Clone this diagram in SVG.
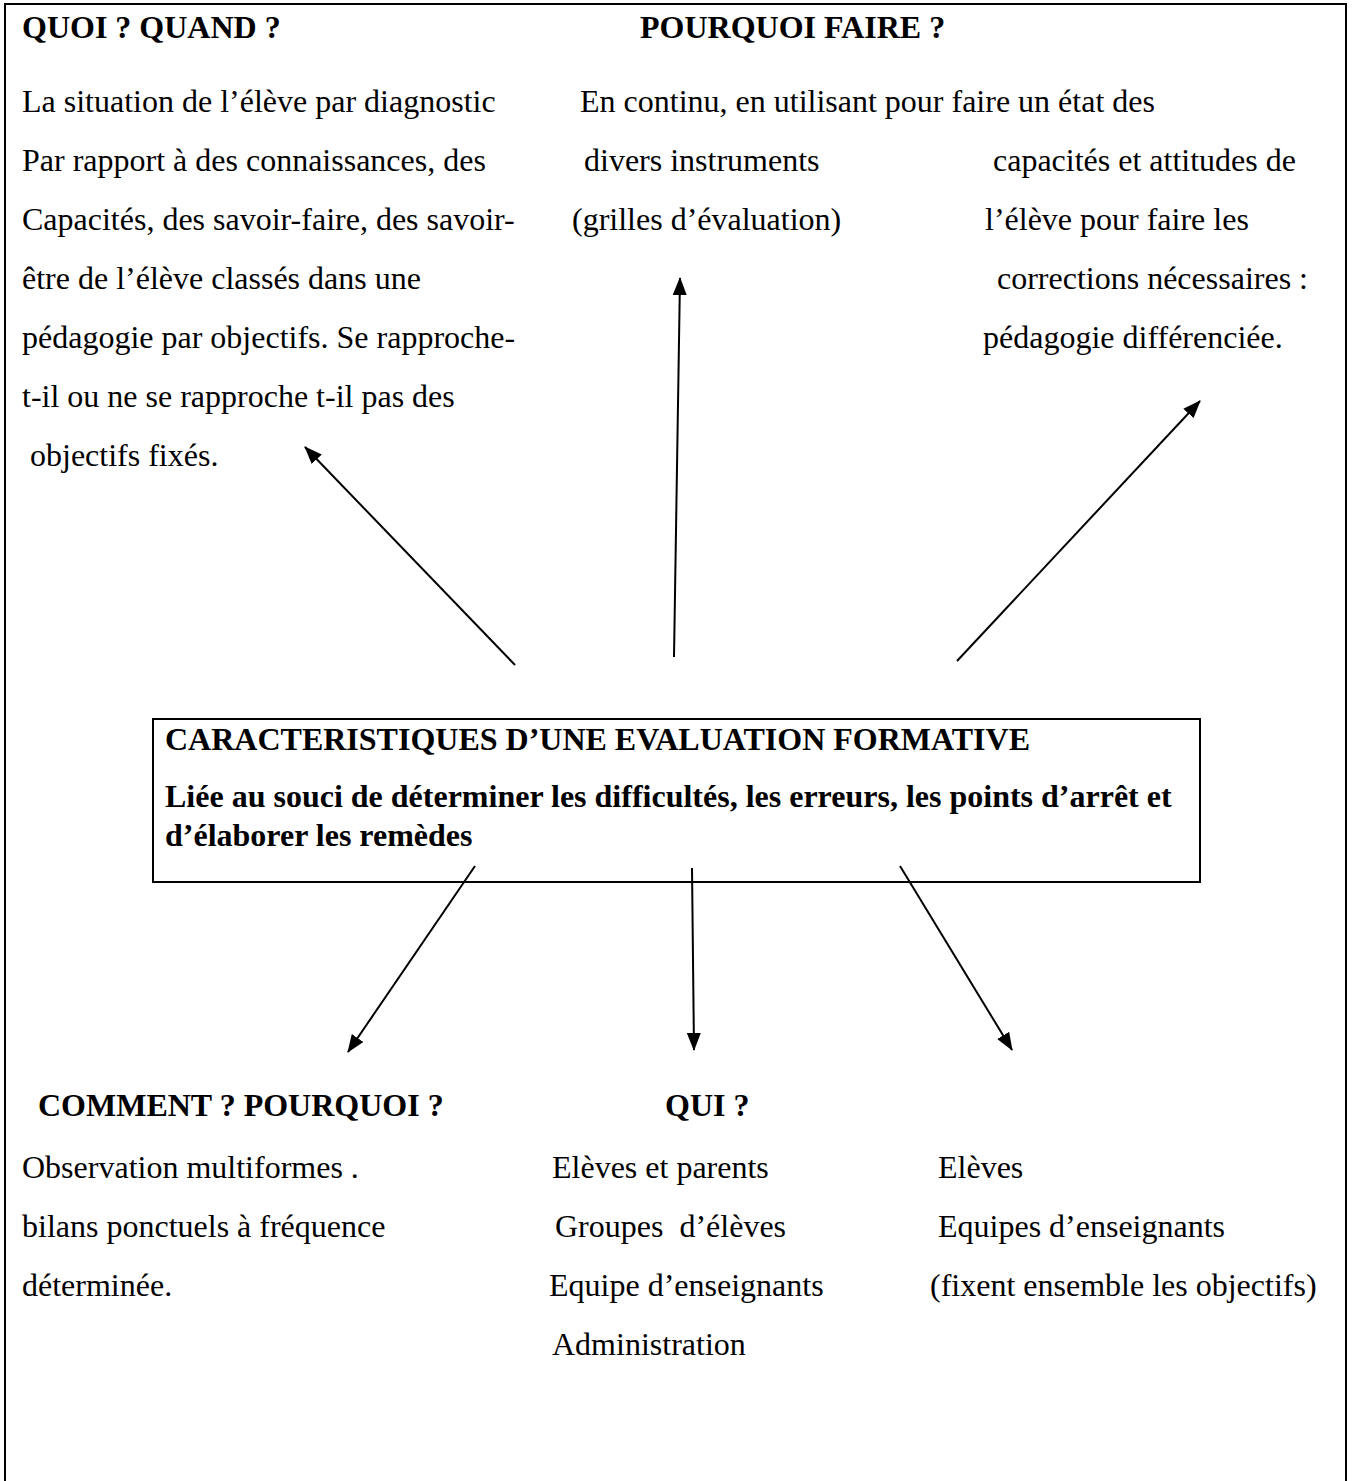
<svg xmlns="http://www.w3.org/2000/svg" width="1352" height="1481" viewBox="0 0 1352 1481">
<defs>
<style>
text{font-family:"Liberation Serif","Times New Roman",serif;font-size:32px;fill:#000}
.b{font-weight:bold}
.ln{stroke:#000;stroke-width:2;fill:none}
</style>
<marker id="ah" markerUnits="userSpaceOnUse" markerWidth="18" markerHeight="14" refX="17" refY="7" orient="auto">
<path d="M0,0 L18,7 L0,14 Z" fill="#000"/>
</marker>
</defs>
<rect width="1352" height="1481" fill="#fff"/>
<path class="ln" d="M5,1481 V4 H1346 V1481"/>

<g id="quoi-quand">
<text class="b" x="22" y="38">QUOI ? QUAND ?</text>
<text x="22" y="112">La situation de l’élève par diagnostic</text>
<text x="22" y="171">Par rapport à des connaissances, des</text>
<text x="22" y="230">Capacités, des savoir-faire, des savoir-</text>
<text x="22" y="289">être de l’élève classés dans une</text>
<text x="22" y="348">pédagogie par objectifs. Se rapproche-</text>
<text x="22" y="407">t-il ou ne se rapproche t-il pas des</text>
<text x="30" y="466">objectifs fixés.</text>
</g>

<g id="pourquoi-faire">
<text class="b" x="640" y="38">POURQUOI FAIRE ?</text>
<text x="580" y="112">En continu, en utilisant pour faire un état des</text>
<text x="584" y="171">divers instruments</text>
<text x="572" y="230">(grilles d’évaluation)</text>
</g>

<g id="etat-capacites">
<text x="993" y="171">capacités et attitudes de</text>
<text x="985" y="230">l’élève pour faire les</text>
<text x="997" y="289">corrections nécessaires :</text>
<text x="983" y="348">pédagogie différenciée.</text>
</g>

<g id="centre">
<rect class="ln" x="153" y="719" width="1047" height="163"/>
<text class="b" x="165" y="750">CARACTERISTIQUES D’UNE EVALUATION FORMATIVE</text>
<text class="b" x="165" y="807">Liée au souci de déterminer les difficultés, les erreurs, les points d’arrêt et</text>
<text class="b" x="165" y="846">d’élaborer les remèdes</text>
</g>

<g id="comment-pourquoi">
<text class="b" x="38" y="1116">COMMENT ? POURQUOI ?</text>
<text x="22" y="1178">Observation multiformes .</text>
<text x="22" y="1237">bilans ponctuels à fréquence</text>
<text x="22" y="1296">déterminée.</text>
</g>

<g id="qui">
<text class="b" x="665" y="1116">QUI ?</text>
<text x="552" y="1178">Elèves et parents</text>
<text x="555" y="1237" xml:space="preserve">Groupes  d’élèves</text>
<text x="549" y="1296">Equipe d’enseignants</text>
<text x="552" y="1355">Administration</text>
</g>

<g id="qui-2">
<text x="938" y="1178">Elèves</text>
<text x="938" y="1237">Equipes d’enseignants</text>
<text x="930" y="1296">(fixent ensemble les objectifs)</text>
</g>

<g id="connectors">
<line class="ln" x1="515" y1="665" x2="305" y2="447" marker-end="url(#ah)"/>
<line class="ln" x1="674" y1="657" x2="680" y2="278" marker-end="url(#ah)"/>
<line class="ln" x1="957" y1="661" x2="1200" y2="401" marker-end="url(#ah)"/>
<line class="ln" x1="475" y1="866" x2="348" y2="1052" marker-end="url(#ah)"/>
<line class="ln" x1="692" y1="868" x2="694" y2="1050" marker-end="url(#ah)"/>
<line class="ln" x1="900" y1="866" x2="1012" y2="1050" marker-end="url(#ah)"/>
</g>
</svg>
